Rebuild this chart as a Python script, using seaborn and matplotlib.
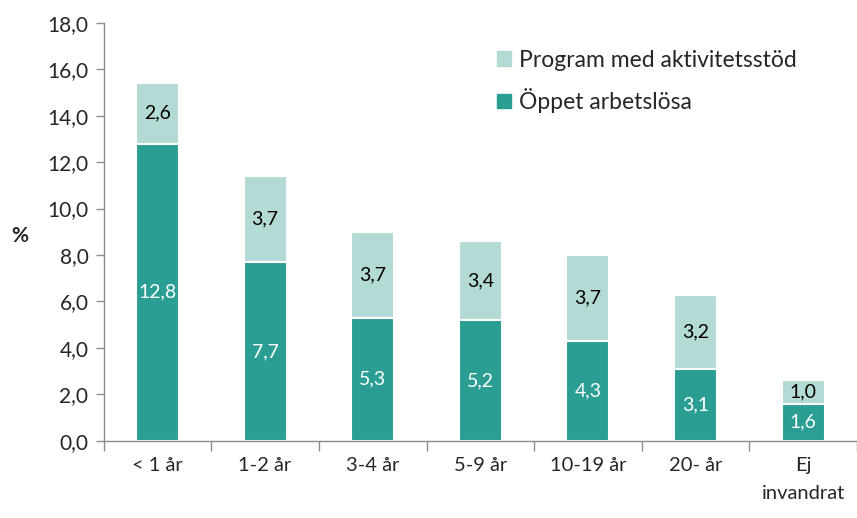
import numpy as np
import pandas as pd
import matplotlib
matplotlib.use("Agg")
import matplotlib.pyplot as plt
import seaborn as sns
from matplotlib.ticker import FixedLocator, FuncFormatter
from matplotlib.patches import Patch

categories = ["< 1 år", "1-2 år", "3-4 år", "5-9 år", "10-19 år", "20- år", "Ej\ninvandrat"]
oppet = [12.8, 7.7, 5.3, 5.2, 4.3, 3.1, 1.6]
program = [2.6, 3.7, 3.7, 3.4, 3.7, 3.2, 1.0]

dark = "#2A9E93"
light = "#B4DAD6"


def main():
    sns.set_style("white")
    plt.rcParams["font.family"] = ["Lato", "DejaVu Sans"]

    df = pd.DataFrame({"cat": categories, "oppet": oppet, "program": program})
    df["total"] = df["oppet"] + df["program"]

    fig = plt.figure(figsize=(8.57, 5.18), dpi=100)
    ax = fig.add_axes([0.121, 0.149, 0.879, 0.807])

    sns.barplot(data=df, x="cat", y="total", color=light, width=0.4,
                edgecolor="white", linewidth=1.5, saturation=1, ax=ax)
    sns.barplot(data=df, x="cat", y="oppet", color=dark, width=0.4,
                edgecolor="white", linewidth=1.5, saturation=1, ax=ax)

    for i, row in df.iterrows():
        ax.text(i, row["oppet"] / 2, f"{row['oppet']:.1f}".replace(".", ","),
                ha="center", va="center", color="white", fontsize=14)
        ax.text(i, row["oppet"] + row["program"] / 2,
                f"{row['program']:.1f}".replace(".", ","),
                ha="center", va="center", color="black", fontsize=14)

    ax.set_ylim(0, 18)
    ax.set_xlim(-0.5, 6.5)
    ax.set_yticks(np.arange(0, 19, 2))
    ax.yaxis.set_major_formatter(FuncFormatter(lambda v, p: f"{v:.1f}".replace(".", ",")))
    ax.xaxis.set_minor_locator(FixedLocator(np.arange(-0.5, 7, 1)))
    ax.tick_params(axis="x", which="major", length=0, labelsize=14.5, pad=12)
    ax.tick_params(axis="x", which="minor", length=7, color="#8c8c8c", width=1, direction="out", bottom=True)
    ax.tick_params(axis="y", length=6, color="#8c8c8c", width=1, direction="out", left=True, labelsize=15, pad=5)
    for lbl in ax.get_xticklabels():
        lbl.set_linespacing(1.75)
        lbl.set_verticalalignment("top")

    ax.set_xlabel("")
    ax.set_ylabel("%", fontsize=15, fontweight="bold", rotation=0, labelpad=10)
    ax.yaxis.set_label_coords(-0.112, 0.465)

    for s in ["top", "right"]:
        ax.spines[s].set_visible(False)
    for s in ["left", "bottom"]:
        ax.spines[s].set_color("#8c8c8c")
        ax.spines[s].set_linewidth(1)

    handles = [Patch(color=light, label="Program med aktivitetsstöd"),
               Patch(color=dark, label="Öppet arbetslösa")]
    ax.legend(handles=handles, loc="upper left", bbox_to_anchor=(0.495, 0.985),
              frameon=False, fontsize=16.5, handlelength=0.6, handleheight=0.6,
              handletextpad=0.35, labelspacing=0.75)

    fig.savefig("out.png", dpi=100)


if __name__ == "__main__":
    main()
